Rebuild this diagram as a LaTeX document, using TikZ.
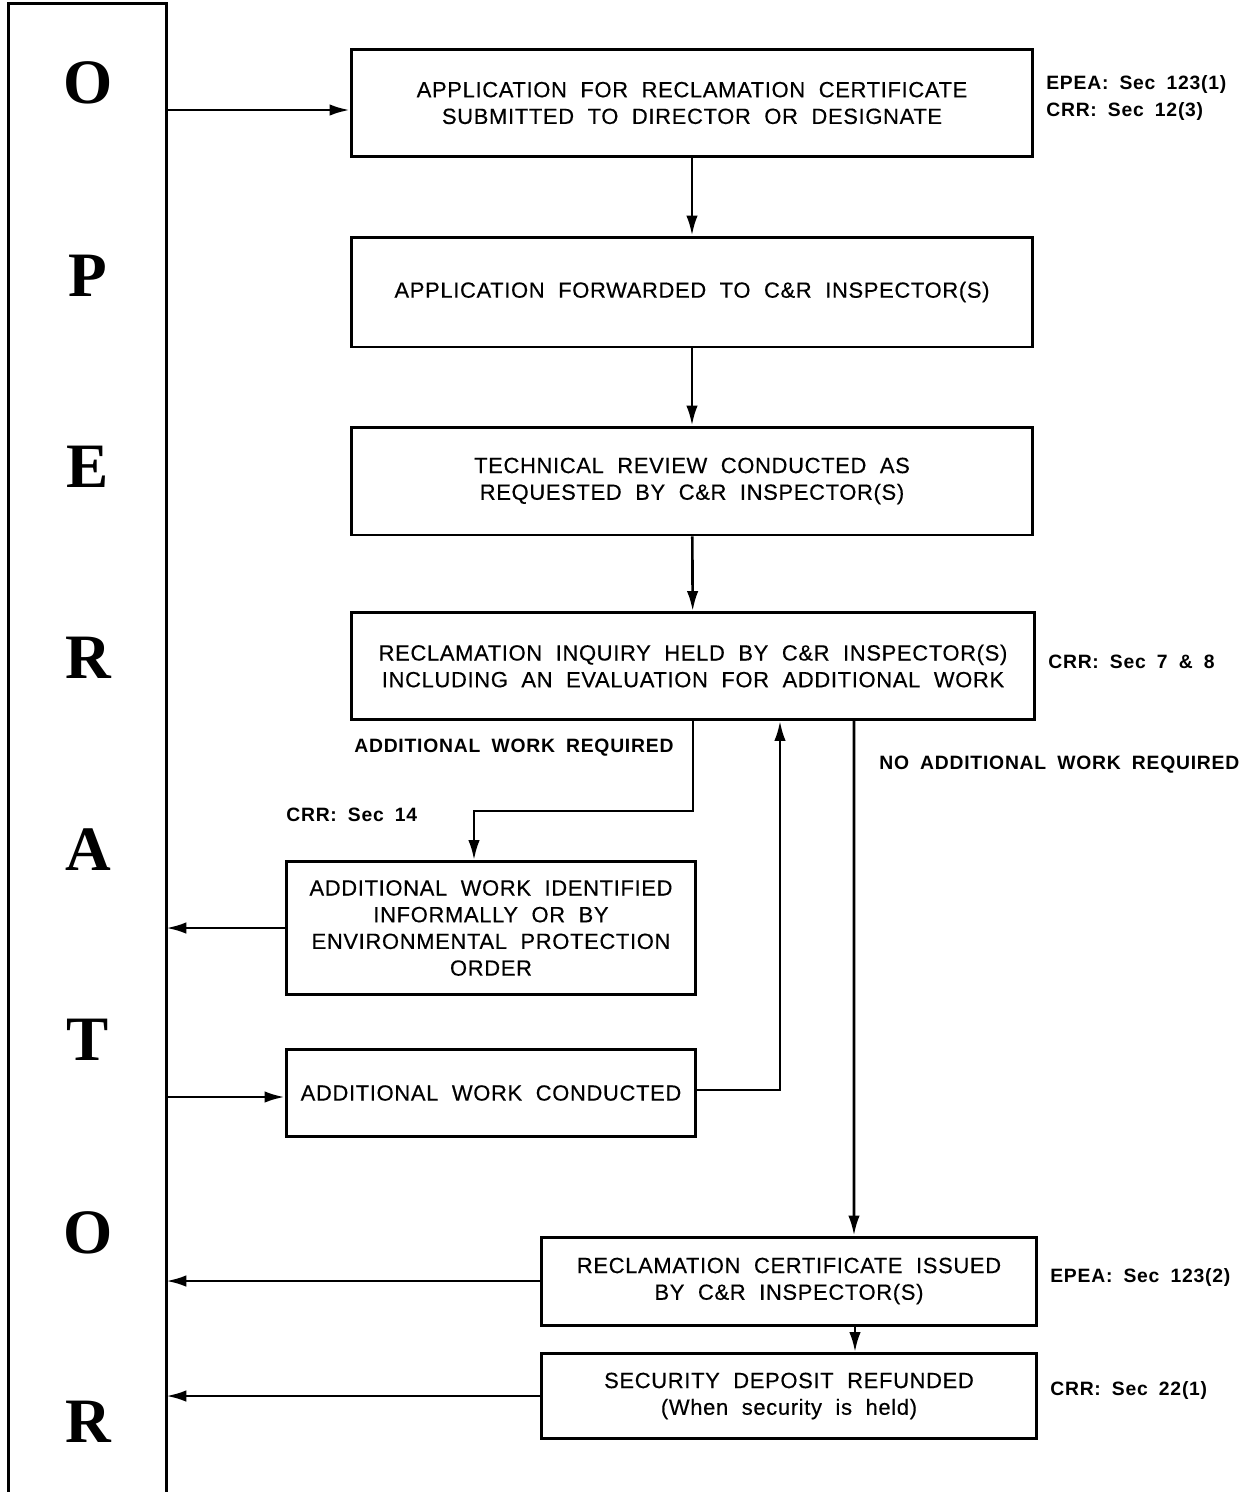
\documentclass[tikz,border=0pt]{standalone}
\usepackage{fontspec}
\setmainfont{Liberation Sans}
\newfontfamily\boxfont{Liberation Sans}[LetterSpace=3,WordSpace=2,FakeBold=0.4]
\newfontfamily\notefont{Liberation Sans}[LetterSpace=4,WordSpace=1.8]
\newfontfamily\opfont{Liberation Serif}
\usetikzlibrary{arrows.meta}

\begin{document}
\begin{tikzpicture}[x=0.02cm,y=-0.02cm,->,>={Latex[length=4mm,width=2.3mm]},
        line width=1.5pt,
        box/.style={draw,-,line width=1.7pt,align=center,inner sep=0pt,
            font={\boxfont\fontsize{12.5}{15.2}\selectfont}},
        secnote/.style={anchor=west,align=left,inner sep=0pt,
            font={\notefont\bfseries\fontsize{11}{15.4}\selectfont}},
        oplet/.style={inner sep=0pt,font={\opfont\bfseries\fontsize{36}{40}\selectfont}}]

    \useasboundingbox (0,0) rectangle (1247,1492);

    \node[minimum width=3.1cm,minimum height=30cm,inner sep=0pt] (operator) at (87.5,755) {};
    \draw[-,line width=1.7pt] (operator.south west) -- (operator.north west)
        -- (operator.north east) -- (operator.south east);
    \foreach \l/\y in {O/83,P/276,E/467,R/658,A/850,T/1040,O/1233,R/1422}
        \node[oplet] (let\y) at (88,\y) {\l};

    \node[box,minimum width=13.64cm,minimum height=2.14cm] (apply) at (692,103)
        {APPLICATION FOR RECLAMATION CERTIFICATE\\SUBMITTED TO DIRECTOR OR DESIGNATE};
    \node[box,minimum width=13.64cm,minimum height=2.2cm] (fwd) at (692,292)
        {APPLICATION FORWARDED TO C\&R INSPECTOR(S)};
    \node[box,minimum width=13.64cm,minimum height=2.16cm] (review) at (692,481)
        {TECHNICAL REVIEW CONDUCTED AS\\REQUESTED BY C\&R INSPECTOR(S)};
    \node[box,minimum width=13.68cm,minimum height=2.14cm] (inquiry) at (693,666)
        {RECLAMATION INQUIRY HELD BY C\&R INSPECTOR(S)\\INCLUDING AN EVALUATION FOR ADDITIONAL WORK};
    \node[box,minimum width=8.2cm,minimum height=2.66cm] (identify) at (491,928)
        {ADDITIONAL WORK IDENTIFIED\\INFORMALLY OR BY\\ENVIRONMENTAL PROTECTION\\ORDER};
    \node[box,minimum width=8.2cm,minimum height=1.74cm] (conduct) at (491,1093)
        {ADDITIONAL WORK CONDUCTED};
    \node[box,minimum width=9.92cm,minimum height=1.76cm] (issued) at (789,1281)
        {RECLAMATION CERTIFICATE ISSUED\\BY C\&R INSPECTOR(S)};
    \node[box,minimum width=9.92cm,minimum height=1.7cm] (refund) at (789,1396)
        {SECURITY DEPOSIT REFUNDED\\(When security is held)};

    \node[secnote] (n1) at (1045,98) {EPEA: Sec 123(1)\\CRR: Sec 12(3)};
    \node[secnote] (n2) at (1047,662) {CRR: Sec 7 \& 8};
    \node[secnote] (n3) at (353,748) {ADDITIONAL WORK REQUIRED};
    \node[secnote] (n4) at (285,815) {CRR: Sec 14};
    \node[secnote] (n5) at (878,765) {NO ADDITIONAL WORK REQUIRED};
    \node[secnote] (n6) at (1049,1277) {EPEA: Sec 123(2)};
    \node[secnote] (n7) at (1049,1390) {CRR: Sec 22(1)};

    \draw ([yshift=-0.14cm]apply.west -| operator.east) -- ([yshift=-0.14cm]apply.west);
    \draw (apply) -- (fwd);
    \draw (fwd) -- (review);
    \draw (review) -- (inquiry);
    \draw (inquiry.south) -- ++(0,-1.8cm) -| ([xshift=-0.34cm]identify.north);
    \draw (identify.west) -- (identify.west -| operator.east);
    \draw ([yshift=-0.08cm]conduct.west -| operator.east) -- ([yshift=-0.08cm]conduct.west);
    \draw ([yshift=0.06cm]conduct.east) -| ([xshift=1.74cm]inquiry.south);
    \draw ([xshift=3.22cm]inquiry.south) -- ([xshift=1.3cm]issued.north);
    \draw ([xshift=1.32cm]issued.south) -- ([xshift=1.32cm]refund.north);
    \draw (issued.west) -- (issued.west -| operator.east);
    \draw (refund.west) -- (refund.west -| operator.east);

    \end{tikzpicture}
\end{document}
